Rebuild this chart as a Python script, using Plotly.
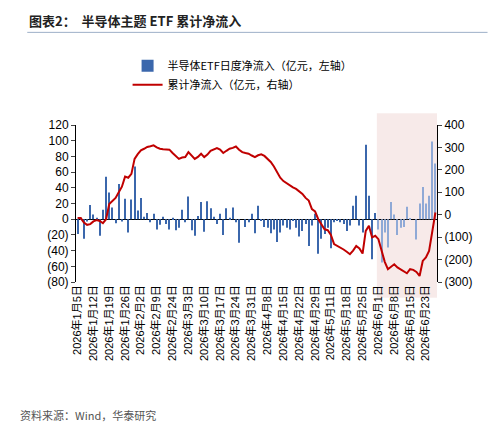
import datetime as dt
import plotly.graph_objects as go

# trading days, Jan 5 - Jun 26 2026 (holidays removed)
holidays = ['2026-02-16', '2026-02-17', '2026-02-18', '2026-02-19', '2026-02-20',
            '2026-02-23', '2026-04-06', '2026-05-01', '2026-05-04', '2026-05-05',
            '2026-06-19']

daily_flow = [-19, 2, -25, -3, 18, 6, 2, -21, 12, 54,
              34, 15, -5, 45, -3, 26, -17, 25, 67, 11,
              27, 3, 8, -4, 7, -13, -7, 3, -6, -13,
              2, -14, -11, 12, -4, 29, -14, -21, 4, 22,
              -16, 23, 14, 3, -6, 7, -20, 14, 2, 15,
              -4, -30, 0, -10, -4, 7, -18, 17, -2, -10,
              -11, -18, -13, -29, -17, -8, -11, -13, -2, -11,
              -22, -15, -6, -34, -8, 7, -44, -25, -19, -11,
              -37, -4, -2, -4, -6, -15, -8, 17, 30, -8,
              -17, 95, 30, -51, 8, -13, -55, -17, -36, 22,
              6, -20, -11, -10, 16, 1, 0, -26, 20, 41,
              20, 30, 99, 71]

cum_flow = [-15, -15, -35, -45, -42, -30, -24, -28, -38, -20,
            48, 62, 75, 100, 125, 170, 165, 182, 249, 270,
            287, 294, 302, 305, 309, 300, 294, 292, 290, 290,
            275, 262, 249, 255, 257, 279, 265, 249, 258, 272,
            257, 268, 285, 292, 297, 290, 275, 285, 294, 298,
            304, 290, 279, 275, 272, 264, 257, 265, 269, 262,
            250, 235, 215, 190, 165, 150, 140, 130, 122, 115,
            105, 93, 75, 63, 25, 15, -20, -40, -65, -69,
            -90, -131, -138, -146, -155, -165, -176, -160, -139, -150,
            -173, -72, -49, -101, -94, -109, -160, -210, -243, -230,
            -221, -235, -245, -251, -261, -243, -246, -255, -273, -206,
            -190, -161, -80, 10]

days = []
d = dt.date(2026, 1, 5)
while len(days) < len(daily_flow):
    if d.weekday() < 5 and d.isoformat() not in holidays:
        days.append(d)
    d += dt.timedelta(days=1)

cats = [x.isoformat() for x in days]
tick_vals = cats[::5]
tick_text = ['%d年%d月%d日' % (x.year, x.month, x.day) for x in days[::5]]
shade_start = cats.index('2026-06-01')

font = 'Liberation Sans, Arial, Noto Sans CJK SC'
bar_colors = ['#3B67AC' if i < shade_start else '#8FA9D6' for i in range(len(cats))]

fig = go.Figure()
fig.add_bar(x=cats, y=daily_flow, name='半导体ETF日度净流入（亿元，左轴）',
            marker=dict(color=bar_colors, line_width=0), width=0.35)
fig.add_scatter(x=cats, y=cum_flow, name='累计净流入（亿元，右轴）', yaxis='y2',
                mode='lines', line=dict(color='#C00000', width=2))

fig.add_shape(type='rect', xref='x', yref='paper', x0=shade_start - 0.5,
              x1=len(cats) - 0.5, y0=-0.1, y1=1.075, fillcolor='#F2DCDB',
              opacity=0.6, line_width=0, layer='below')
fig.add_shape(type='line', xref='paper', yref='paper', x0=-0.135, x1=1.14,
              y0=1.59, y1=1.59, line=dict(color='#9DB0C8', width=1))

fig.update_layout(
    width=504, height=424,
    margin=dict(l=68, r=75, t=117, b=150),
    paper_bgcolor='white', plot_bgcolor='rgba(0,0,0,0)',
    font=dict(family=font, size=12, color='black'),
    showlegend=True,
    legend=dict(x=0.78, y=1.47, xanchor='right', yanchor='top',
                font=dict(size=11, family='Noto Sans CJK SC'), tracegroupgap=4),
    xaxis=dict(type='category', tickvals=tick_vals, ticktext=tick_text,
               tickangle=-90, tickfont=dict(size=11, family=font),
               showgrid=False, showline=False, ticks=''),
    yaxis=dict(range=[-80, 120], showgrid=False,
               showline=True, linecolor='black', ticks='outside', ticklen=4,
               zeroline=True, zerolinecolor='black', zerolinewidth=1,
               tickvals=list(range(-80, 121, 20)),
               ticktext=['(%d)' % -v if v < 0 else str(v) for v in range(-80, 121, 20)]),
    yaxis2=dict(range=[-300, 400], overlaying='y', side='right', showgrid=False,
                showline=True, linecolor='black', ticks='outside', ticklen=4,
                zeroline=False,
                tickvals=list(range(-300, 401, 100)),
                ticktext=['(%d)' % -v if v < 0 else str(v) for v in range(-300, 401, 100)]),
)

fig.add_annotation(text='<b>图表2：  半导体主题 ETF 累计净流入</b>', xref='paper', yref='paper',
                   x=-0.135, y=1.665, xanchor='left', yanchor='middle', showarrow=False,
                   font=dict(size=13, family='Noto Sans CJK SC', color='#222'))
fig.add_annotation(text='资料来源：Wind，华泰研究', xref='paper', yref='paper',
                   x=-0.16, y=-0.85, xanchor='left', yanchor='middle', showarrow=False,
                   font=dict(size=11, family='Noto Sans CJK SC', color='#555'))

fig.write_html('out.html')
